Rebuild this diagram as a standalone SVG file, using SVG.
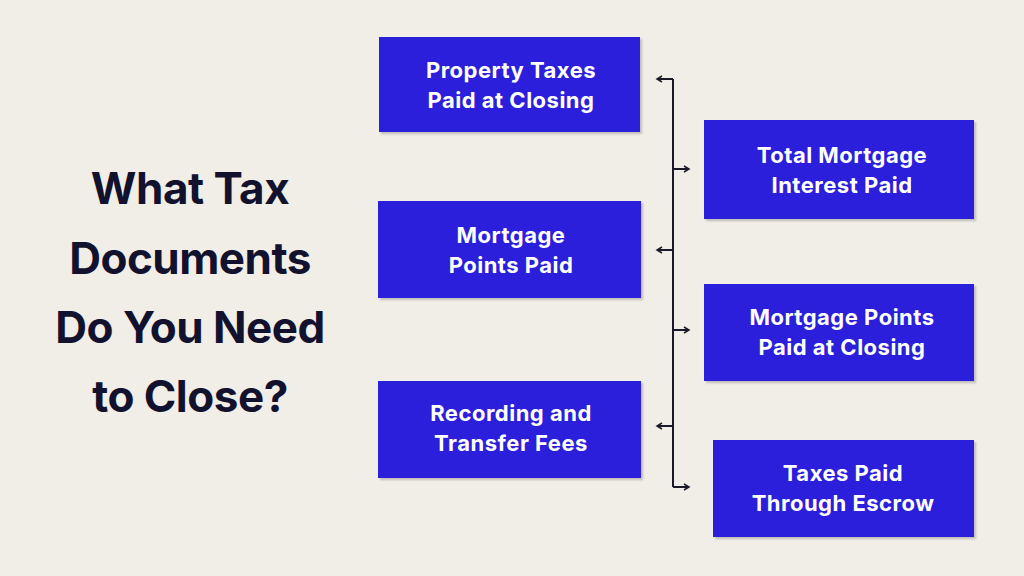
<svg xmlns="http://www.w3.org/2000/svg" width="1024" height="576" viewBox="0 0 1024 576">
<defs>
<style>
.box{fill:#2b1fdc;filter:drop-shadow(2px 2px 1px rgba(0,0,0,0.2))}
.bt{font-family:Inter,"Liberation Sans",sans-serif;font-weight:700;font-size:22px;fill:#fff;text-anchor:middle;letter-spacing:0.5px}
.tt{font-family:Inter,"Liberation Sans",sans-serif;font-weight:700;font-size:44px;fill:#12122e;text-anchor:middle;letter-spacing:-0.5px}
.c{stroke:#1a1a2a;stroke-width:2;fill:none}
</style>
<marker id="a" markerWidth="8" markerHeight="8" refX="6" refY="4" orient="auto" markerUnits="userSpaceOnUse"><path d="M1,1 L6,4 L1,7" fill="none" stroke="#1a1a2a" stroke-width="1.5"/></marker>
</defs>
<rect width="1024" height="576" fill="#f1ede7"/>
<g id="title">
<text class="tt" x="190" y="204">What Tax</text>
<text class="tt" x="190" y="274">Documents</text>
<text class="tt" x="190" y="343">Do You Need</text>
<text class="tt" x="190" y="412">to Close?</text>
</g>
<g id="connectors">
<path class="c" d="M673,79 V487"/>
<path class="c" d="M673,79 H657" marker-end="url(#a)"/>
<path class="c" d="M673,250 H657" marker-end="url(#a)"/>
<path class="c" d="M673,426 H657" marker-end="url(#a)"/>
<path class="c" d="M673,169 H689" marker-end="url(#a)"/>
<path class="c" d="M673,330 H689" marker-end="url(#a)"/>
<path class="c" d="M673,487 H689" marker-end="url(#a)"/>
</g>
<g id="n1"><rect class="box" x="379" y="37" width="261" height="95"/><text class="bt" x="511" y="78">Property Taxes</text><text class="bt" x="511" y="108">Paid at Closing</text></g>
<g id="n2"><rect class="box" x="378" y="201" width="263" height="97"/><text class="bt" x="511" y="243">Mortgage</text><text class="bt" x="511" y="273">Points Paid</text></g>
<g id="n3"><rect class="box" x="378" y="381" width="263" height="97"/><text class="bt" x="511" y="421">Recording and</text><text class="bt" x="511" y="451">Transfer Fees</text></g>
<g id="n4"><rect class="box" x="704" y="120" width="270" height="99"/><text class="bt" x="842" y="163">Total Mortgage</text><text class="bt" x="842" y="193">Interest Paid</text></g>
<g id="n5"><rect class="box" x="704" y="284" width="270" height="97"/><text class="bt" x="842" y="325">Mortgage Points</text><text class="bt" x="842" y="355">Paid at Closing</text></g>
<g id="n6"><rect class="box" x="713" y="440" width="261" height="97"/><text class="bt" x="843" y="481">Taxes Paid</text><text class="bt" x="843" y="511">Through Escrow</text></g>
</svg>
